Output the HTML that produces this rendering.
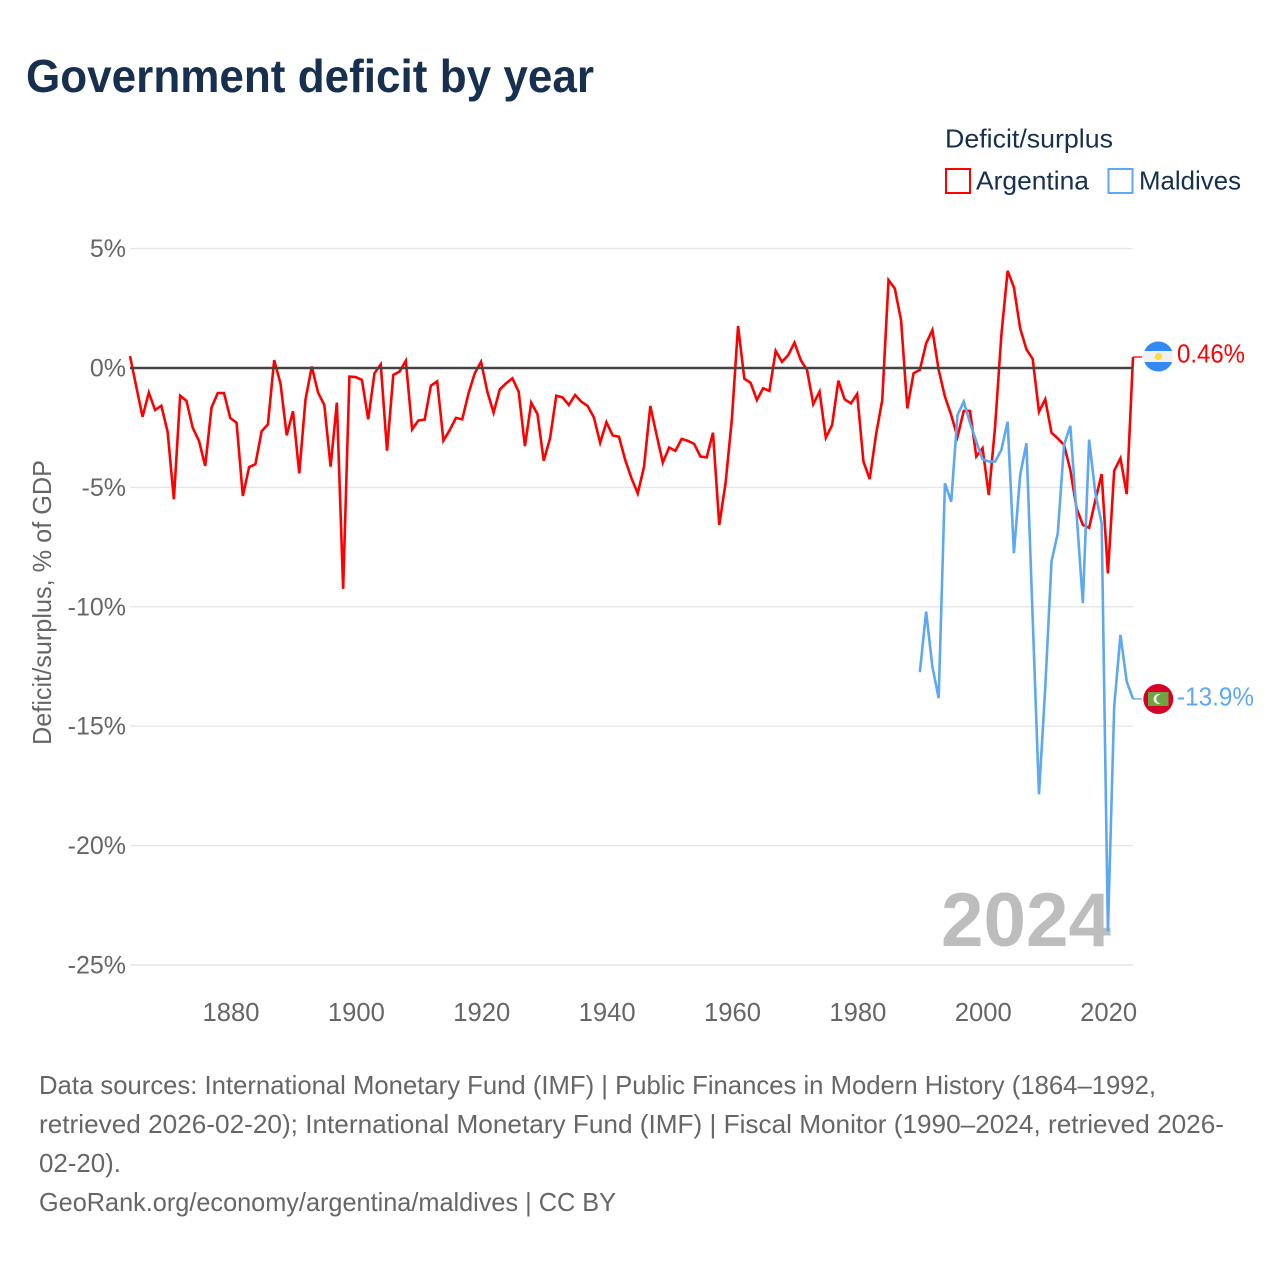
<!DOCTYPE html>
<html lang="en">
<head>
<meta charset="utf-8">
<title>Government deficit by year</title>
<style>
  html, body { margin: 0; padding: 0; background: #fff; }
  svg { display: block; font-family: "Liberation Sans", sans-serif; }
</style>
</head>
<body>
<svg id="chart" width="1280" height="1280" viewBox="0 0 1280 1280" xmlns="http://www.w3.org/2000/svg">
  <rect x="0" y="0" width="1280" height="1280" fill="#ffffff"/>
  <text x="26" y="92" font-size="46" font-weight="700" fill="#18304f" textLength="568" lengthAdjust="spacingAndGlyphs">Government deficit by year</text>

  <g>
    <text x="945" y="147.5" font-size="26" fill="#18304f" textLength="168" lengthAdjust="spacingAndGlyphs">Deficit/surplus</text>
    <rect x="946" y="169" width="24" height="24" fill="none" stroke="#ff0000" stroke-width="2"/>
    <text x="976" y="189.5" font-size="26" fill="#18304f" textLength="113" lengthAdjust="spacingAndGlyphs">Argentina</text>
    <rect x="1108.5" y="169" width="24" height="24" fill="none" stroke="#5da8f0" stroke-width="2"/>
    <text x="1139" y="189.5" font-size="26" fill="#18304f" textLength="102" lengthAdjust="spacingAndGlyphs">Maldives</text>
  </g>

  <text transform="translate(51,745) rotate(-90)" x="0" y="0" font-size="26" fill="#666666" textLength="285" lengthAdjust="spacingAndGlyphs">Deficit/surplus, % of GDP</text>

  <g id="grid"></g>
  <g id="yticks"></g>
  <g id="xticks"></g>
  <text x="941" y="946" font-size="76" font-weight="700" fill="#bdbdbd" textLength="170" lengthAdjust="spacingAndGlyphs">2024</text>
  <g id="series"></g>
  <g id="zero"></g>

  <g>
    <clipPath id="clip-ar"><circle cx="1158.3" cy="356.5" r="15"/></clipPath>
    <g clip-path="url(#clip-ar)">
      <rect x="1143" y="341" width="31" height="31" fill="#f0f0f0"/>
      <rect x="1143" y="341" width="31" height="10" fill="#338af3"/>
      <rect x="1143" y="362" width="31" height="10" fill="#338af3"/>
      <circle cx="1158.3" cy="356.5" r="3.6" fill="#ffda44"/>
    </g>
    <text x="1177" y="362.5" font-size="26" fill="#ff0000" textLength="68" lengthAdjust="spacingAndGlyphs">0.46%</text>
  </g>

  <g>
    <circle cx="1158.3" cy="699" r="15" fill="#d80027"/>
    <rect x="1148" y="692" width="20.5" height="14" fill="#6da544"/>
    <circle cx="1158.5" cy="699" r="5" fill="#f0f0f0"/>
    <circle cx="1160.7" cy="699" r="4.4" fill="#6da544"/>
    <text x="1177" y="705.5" font-size="26" fill="#5da8f0" textLength="77" lengthAdjust="spacingAndGlyphs">-13.9%</text>
  </g>

  <g font-size="26" fill="#666666">
    <text x="39" y="1094" textLength="1117" lengthAdjust="spacingAndGlyphs">Data sources: International Monetary Fund (IMF) | Public Finances in Modern History (1864–1992,</text>
    <text x="39" y="1133" textLength="1185" lengthAdjust="spacingAndGlyphs">retrieved 2026-02-20); International Monetary Fund (IMF) | Fiscal Monitor (1990–2024, retrieved 2026-</text>
    <text x="39" y="1172" textLength="82" lengthAdjust="spacingAndGlyphs">02-20).</text>
    <text x="39" y="1211" textLength="577" lengthAdjust="spacingAndGlyphs">GeoRank.org/economy/argentina/maldives | CC BY</text>
  </g>
</svg>

<script>
const yTickValues = [5, 0, -5, -10, -15, -20, -25];
const yTickLabels = ['5%', '0%', '-5%', '-10%', '-15%', '-20%', '-25%'];
const xTickValues = [1880, 1900, 1920, 1940, 1960, 1980, 2000, 2020];
const xTickLabels = ['1880', '1900', '1920', '1940', '1960', '1980', '2000', '2020'];
const argentinaStartYear = 1864;
const maldivesStartYear = 1990;
const argentinaValues = [
  0.5, -0.78, -2.04, -1.03, -1.76, -1.58,
  -2.67, -5.5, -1.16, -1.37, -2.5, -3.05, -4.1, -1.66, -1.05, -1.05,
  -2.1, -2.29, -5.36, -4.15, -4.03, -2.65, -2.36, 0.33, -0.64, -2.82,
  -1.81, -4.41, -1.31, 0.06, -1.03, -1.55, -4.13, -1.45, -9.25, -0.36,
  -0.38, -0.5, -2.15, -0.22, 0.15, -3.46, -0.29, -0.15, 0.3, -2.57,
  -2.2, -2.16, -0.74, -0.56, -3.04, -2.6, -2.09, -2.15, -1.06, -0.22,
  0.26, -0.99, -1.87, -0.89, -0.64, -0.43, -0.99, -3.27, -1.45, -1.93,
  -3.88, -2.95, -1.16, -1.23, -1.55, -1.13, -1.41, -1.59, -2.07, -3.13,
  -2.27, -2.82, -2.88, -3.85, -4.62, -5.25, -4.13, -1.59, -2.8, -3.96,
  -3.33, -3.47, -2.97, -3.05, -3.18, -3.71, -3.74, -2.71, -6.57, -4.83,
  -2.18, 1.76, -0.45, -0.62, -1.34, -0.85, -0.96, 0.72, 0.26, 0.54,
  1.06, 0.33, -0.08, -1.51, -0.99, -2.92, -2.39, -0.53, -1.31, -1.48,
  -1.09, -3.92, -4.65, -2.8, -1.34, 3.68, 3.33, 2.0, -1.69, -0.22,
  -0.08, 1.03, 1.59, -0.08, -1.2, -1.97, -2.88, -1.8, -1.8, -3.71,
  -3.36, -5.32, -2.46, 1.38, 4.07, 3.38, 1.66, 0.78, 0.38, -1.83,
  -1.31, -2.71, -2.95, -3.22, -4.27, -5.88, -6.57, -6.69, -5.53, -4.44,
  -8.6, -4.3, -3.78, -5.28, 0.46
];
const maldivesValues = [
  -12.74, -10.2, -12.51, -13.83, -4.83, -5.6, -1.97, -1.41, -2.3, -3.08,
  -3.82, -3.92, -3.92, -3.43, -2.25, -7.76, -4.48, -3.15, -10.5, -17.85,
  -13.4, -8.1, -6.92, -3.22, -2.42, -6.1, -9.85, -3.0, -5.25, -6.51,
  -23.6, -14.18, -11.18, -13.13, -13.86
];

const NS = 'http://www.w3.org/2000/svg';
const plotLeft = 130, plotRight = 1133;
const xMinYear = 1864, xMaxYear = 2024;
const zeroY = 368, pxPerPercent = 23.88;

function xScale(year) {
  return plotLeft + (year - xMinYear) * (plotRight - plotLeft) / (xMaxYear - xMinYear);
}
function yScale(value) {
  return zeroY - value * pxPerPercent;
}
function linePath(startYear, values) {
  return values.map(function (v, i) {
    return (i ? 'L' : 'M') + xScale(startYear + i).toFixed(2) + ' ' + yScale(v).toFixed(2);
  }).join(' ');
}

const gridGroup = document.getElementById('grid');
const yTickGroup = document.getElementById('yticks');
const xTickGroup = document.getElementById('xticks');
const seriesGroup = document.getElementById('series');
const zeroGroup = document.getElementById('zero');

yTickValues.forEach(function (v, i) {
  if (v !== 0) {
    const gridLine = document.createElementNS(NS, 'line');
    
    
    gridLine.setAttribute('x1', plotLeft);
    gridLine.setAttribute('x2', plotRight);
    gridLine.setAttribute('y1', yScale(v));
    gridLine.setAttribute('y2', yScale(v));
    gridLine.setAttribute('stroke', '#e6e6e6');
    gridLine.setAttribute('stroke-width', '1.4');
    gridGroup.appendChild(gridLine);
  }
  const yLabel = document.createElementNS(NS, 'text');
  
  
  yLabel.setAttribute('x', 126);
  yLabel.setAttribute('y', yScale(v) + 8.5);
  yLabel.setAttribute('text-anchor', 'end');
  yLabel.setAttribute('font-size', '25');
  yLabel.setAttribute('fill', '#666666');
  yLabel.textContent = yTickLabels[i];
  yTickGroup.appendChild(yLabel);
});

xTickValues.forEach(function (year, i) {
  const xLabel = document.createElementNS(NS, 'text');
  
  
  xLabel.setAttribute('x', xScale(year) + 0.7);
  xLabel.setAttribute('y', 1021);
  xLabel.setAttribute('text-anchor', 'middle');
  xLabel.setAttribute('font-size', '25.6');
  xLabel.setAttribute('fill', '#666666');
  xLabel.textContent = xTickLabels[i];
  xTickGroup.appendChild(xLabel);
});

const argentinaLine = document.createElementNS(NS, 'path');


argentinaLine.setAttribute('d', linePath(argentinaStartYear, argentinaValues));
argentinaLine.setAttribute('fill', 'none');
argentinaLine.setAttribute('stroke', '#ff0000');
argentinaLine.setAttribute('stroke-width', '2.6');
argentinaLine.setAttribute('stroke-linejoin', 'miter');
seriesGroup.appendChild(argentinaLine);

const maldivesLine = document.createElementNS(NS, 'path');


maldivesLine.setAttribute('d', linePath(maldivesStartYear, maldivesValues));
maldivesLine.setAttribute('fill', 'none');
maldivesLine.setAttribute('stroke', '#5da8f0');
maldivesLine.setAttribute('stroke-width', '2.6');
maldivesLine.setAttribute('stroke-linejoin', 'miter');
seriesGroup.appendChild(maldivesLine);

const argentinaLast = argentinaValues[argentinaValues.length - 1];
const argentinaConnector = document.createElementNS(NS, 'line');


argentinaConnector.setAttribute('x1', plotRight);
argentinaConnector.setAttribute('x2', plotRight + 9);
argentinaConnector.setAttribute('y1', yScale(argentinaLast));
argentinaConnector.setAttribute('y2', yScale(argentinaLast));
argentinaConnector.setAttribute('stroke', '#ff0000');
argentinaConnector.setAttribute('stroke-width', '1.3');
seriesGroup.appendChild(argentinaConnector);

const maldivesLast = maldivesValues[maldivesValues.length - 1];
const maldivesConnector = document.createElementNS(NS, 'line');


maldivesConnector.setAttribute('x1', plotRight);
maldivesConnector.setAttribute('x2', plotRight + 9);
maldivesConnector.setAttribute('y1', yScale(maldivesLast));
maldivesConnector.setAttribute('y2', yScale(maldivesLast));
maldivesConnector.setAttribute('stroke', '#5da8f0');
maldivesConnector.setAttribute('stroke-width', '1.3');
seriesGroup.appendChild(maldivesConnector);

const zeroLine = document.createElementNS(NS, 'line');


zeroLine.setAttribute('x1', plotLeft);
zeroLine.setAttribute('x2', plotRight);
zeroLine.setAttribute('y1', yScale(0));
zeroLine.setAttribute('y2', yScale(0));
zeroLine.setAttribute('stroke', '#444444');
zeroLine.setAttribute('stroke-width', '2.6');
zeroGroup.appendChild(zeroLine);
</script>
</body>
</html>
